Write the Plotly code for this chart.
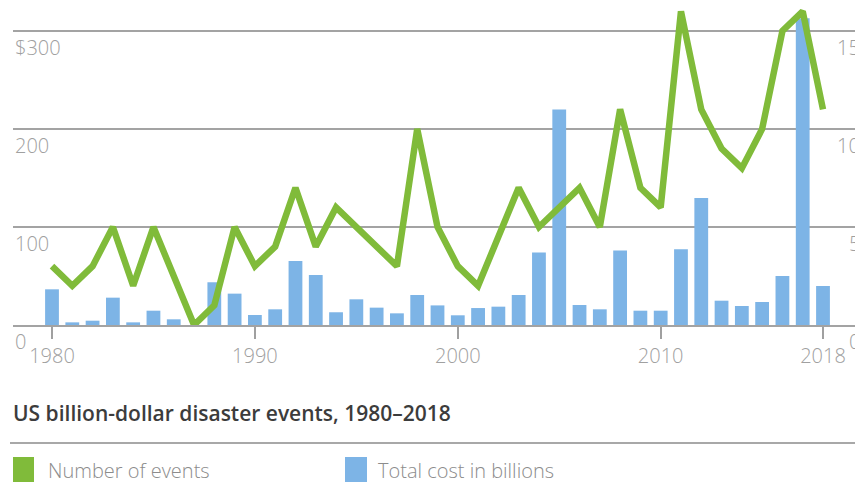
import plotly.graph_objects as go

years = list(range(1980, 2019))
events = [3, 2, 3, 5, 2, 5, 2.5, 0, 1, 5,
          3, 4, 7, 4, 6, 5, 4, 3, 10, 5,
          3, 2, 4.5, 7, 5, 6, 7, 5, 11, 7,
          6, 16, 11, 9, 8, 10, 15, 16, 11]
cost = [36.4, 2.7, 4.4, 27.9, 2.7, 14.6, 5.8, 0, 43.6, 32,
        10.2, 16, 65.3, 51, 13, 26.2, 17.7, 11.9, 30.6, 20,
        9.9, 17.3, 18.7, 30.6, 74, 220, 20.4, 16, 75.9, 14.6,
        14.6, 77.2, 129.6, 24.8, 19.4, 23.5, 50, 313, 39.8]
x_ticks = [1980, 1990, 2000, 2010, 2018]
left_ticks = [0, 100, 200, 300]
left_labels = ["0", "100", "200", "$300"]
right_ticks = [0, 5, 10, 15]
right_labels = ["0", "5", "10", "15"]
title = "US billion-dollar disaster events, 1980\u20132018"
series_names = ["Number of events", "Total cost in billions"]

GREEN = "#80bb3a"
BLUE = "#7db4e6"
GRID = "#a3a3a3"
TICK = "#a0a0a0"

W, H = 855, 482
L, R, T, B = 13, 0, 0, 157
PW, PH = W - L - R, H - T - B
Y1MAX = 331.6
Y2MAX = Y1MAX / 20.0


def px(xp):
    return (xp - L) / PW


def py(yp):
    return (T + PH - yp) / PH


fig = go.Figure()
fig.add_trace(go.Bar(x=years, y=cost, marker=dict(color=BLUE, line=dict(width=0)),
                     width=0.68, name=series_names[1], yaxis="y"))
fig.add_trace(go.Scatter(x=years, y=events, mode="lines", name=series_names[0],
                         line=dict(color=GREEN, width=6.5), yaxis="y2"))

annotations = []
font_tick = dict(family="Open Sans", size=20, color=TICK, weight=300)
for v, t in zip(left_ticks, left_labels):
    annotations.append(dict(x=0, xref="paper", y=v, yref="y", text=t, showarrow=False,
                            xanchor="left", yanchor="top", xshift=0, yshift=-1,
                            font=font_tick))
for v, t in zip(right_ticks, right_labels):
    annotations.append(dict(x=px(862), xref="paper", y=v, yref="y2", text=t, showarrow=False,
                            xanchor="right", yanchor="top", yshift=-1,
                            font=font_tick))

annotations.append(dict(x=px(11), xref="paper", y=py(413), yref="paper", text=title,
                        showarrow=False, xanchor="left", yanchor="middle",
                        font=dict(family="Open Sans", size=21, color="#3c3c3c", weight=600)))
annotations.append(dict(x=px(46), xref="paper", y=py(470), yref="paper", text=series_names[0],
                        showarrow=False, xanchor="left", yanchor="middle",
                        font=dict(family="Open Sans", size=20, color="#8c8c8c", weight=300)))
annotations.append(dict(x=px(376), xref="paper", y=py(470), yref="paper", text=series_names[1],
                        showarrow=False, xanchor="left", yanchor="middle",
                        font=dict(family="Open Sans", size=20, color="#8c8c8c", weight=300)))

shapes = [
    dict(type="line", xref="paper", yref="paper", x0=px(10), x1=px(870), y0=py(443), y1=py(443),
         line=dict(color="#a8a8a8", width=2)),
    dict(type="rect", xref="paper", yref="paper", x0=px(13), x1=px(34), y0=py(457), y1=py(495),
         fillcolor=GREEN, line=dict(width=0)),
    dict(type="rect", xref="paper", yref="paper", x0=px(345), x1=px(367), y0=py(457), y1=py(495),
         fillcolor=BLUE, line=dict(width=0)),
]

fig.update_layout(
    width=W, height=H,
    margin=dict(l=L, r=R, t=T, b=B, pad=0),
    paper_bgcolor="white", plot_bgcolor="white",
    showlegend=False,
    bargap=0.3,
    annotations=annotations,
    shapes=shapes,
    xaxis=dict(range=[1980 - 39 / 20.29, 2018 + 32 / 20.29], tickvals=x_ticks,
               ticks="outside", ticklen=12, tickwidth=1.5, tickcolor=TICK,
               showline=True, linecolor=GRID, linewidth=2, showgrid=False, zeroline=False,
               tickfont=dict(family="Open Sans", size=20, color=TICK, weight=300)),
    yaxis=dict(range=[0, Y1MAX], tickvals=left_ticks, showticklabels=False,
               showgrid=True, gridcolor=GRID, gridwidth=2, zeroline=False, fixedrange=True),
    yaxis2=dict(range=[0, Y2MAX], overlaying="y", side="right", showticklabels=False,
                showgrid=False, zeroline=False),
)

fig.write_html("out.html")
